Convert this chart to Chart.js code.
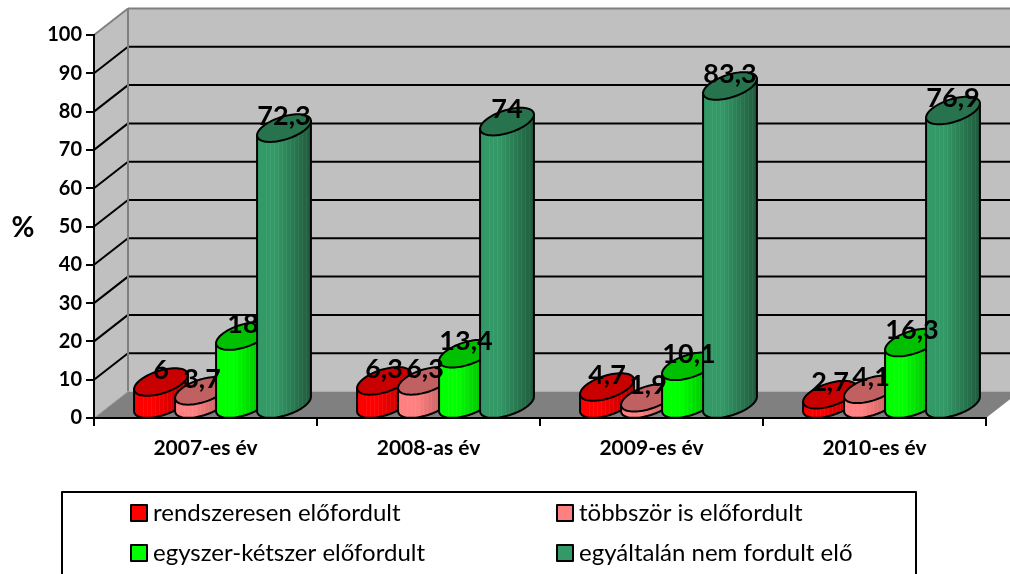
<!DOCTYPE html>
<html><head><meta charset="utf-8">
<script src="https://cdn.jsdelivr.net/npm/chart.js@4"></script>
<style>html,body{margin:0;padding:0;background:#fff;overflow:hidden}canvas{display:block}</style>
</head><body><canvas id="c" width="1010" height="574"></canvas>
<script>
const categories = ['2007-es év','2008-as év','2009-es év','2010-es év'];
const regular = [6, 6.3, 4.7, 2.7];
const several = [3.7, 6.3, 1.9, 4.1];
const onceTwice = [18, 13.4, 10.1, 16.3];
const never = [72.3, 74, 83.3, 76.9];
const seriesNames = ['rendszeresen előfordult','többször is előfordult','egyszer-kétszer előfordult','egyáltalán nem fordult elő'];
const bodyLight = ['#ff0000','#ff8080','#00ff00','#339966'];
const bodyDark = ['#b00000','#b05858','#00a800','#1f5a3d'];
const topColor = ['#c80000','#c06060','#00c000','#27734d'];
const legendColor = ['#ff0000','#ff8080','#00ff00','#339966'];
const yLabel = '%';

const DEPTH_X = 34, DEPTH_Y = 26.5;
const CYL_X = 17, CYL_Y = 13;
const HALF_W = 23, SKEW = 14, HALF_D = 13.8;

function line(ctx, x1, y1, x2, y2, color, w) {
  ctx.strokeStyle = color; ctx.lineWidth = w;
  ctx.beginPath(); ctx.moveTo(x1, y1); ctx.lineTo(x2, y2); ctx.stroke();
}
function ringPoint(cx, cy, t, a) {
  return [cx + a * HALF_W * Math.cos(t) + SKEW * Math.sin(t), cy - HALF_D * Math.sin(t)];
}
function fmt(v) { return String(v).replace('.', ','); }

function drawCylinder(ctx, el, idx) {
  const cx = el.x + CYL_X, topY = el.y - CYL_Y, baseY = el.base - CYL_Y;
  const a = el.width / 41;
  const t0 = Math.atan2(SKEW, a * HALF_W);
  const ext = Math.hypot(SKEW, a * HALF_W);
  const g2 = ctx.createLinearGradient(cx - ext, 0, cx + ext, 0);
  g2.addColorStop(0, bodyLight[idx]);
  g2.addColorStop(0.35, bodyLight[idx]);
  g2.addColorStop(1, bodyDark[idx]);

  const body = new Path2D();
  const n = 40;
  let p = ringPoint(cx, topY, t0 + Math.PI, a);
  body.moveTo(p[0], p[1]);
  for (let i = 0; i <= n; i++) {
    p = ringPoint(cx, baseY, t0 + Math.PI + Math.PI * i / n, a);
    body.lineTo(p[0], p[1]);
  }
  p = ringPoint(cx, topY, t0, a);
  body.lineTo(p[0], p[1]);
  body.closePath();
  ctx.fillStyle = g2; ctx.fill(body);

  ctx.save();
  ctx.clip(body);
  ctx.globalAlpha = 0.06;
  ctx.lineWidth = 1;
  ctx.strokeStyle = '#ffffff';
  for (let sx = Math.round(cx - ext) + 9.5; sx < cx + ext; sx += 4) {
    ctx.beginPath(); ctx.moveTo(sx, topY - 20); ctx.lineTo(sx, baseY + 20); ctx.stroke();
  }
  ctx.restore();

  ctx.strokeStyle = '#000'; ctx.lineWidth = 2; ctx.lineJoin = 'round';
  ctx.stroke(body);

  ctx.beginPath();
  for (let i = 0; i <= 72; i++) {
    p = ringPoint(cx, topY, Math.PI * 2 * i / 72, a);
    if (i) ctx.lineTo(p[0], p[1]); else ctx.moveTo(p[0], p[1]);
  }
  ctx.closePath();
  ctx.fillStyle = topColor[idx]; ctx.fill();
  ctx.stroke();
}

const scene = {
  id: 'scene',
  beforeDraw(chart) {
    const ctx = chart.ctx, ya = chart.scales.y;
    const L = chart.chartArea.left, R = chart.chartArea.right;
    const top = ya.getPixelForValue(100), bot = ya.getPixelForValue(0);
    ctx.save();
    ctx.fillStyle = '#c0c0c0';
    ctx.beginPath();
    ctx.moveTo(L, top); ctx.lineTo(L + DEPTH_X, top - DEPTH_Y);
    ctx.lineTo(R + DEPTH_X, top - DEPTH_Y); ctx.lineTo(R + DEPTH_X, bot - DEPTH_Y);
    ctx.lineTo(L + DEPTH_X, bot - DEPTH_Y); ctx.lineTo(L, bot);
    ctx.closePath(); ctx.fill();
    ctx.fillStyle = '#808080';
    ctx.beginPath();
    ctx.moveTo(L, bot); ctx.lineTo(L + DEPTH_X, bot - DEPTH_Y);
    ctx.lineTo(R + DEPTH_X, bot - DEPTH_Y); ctx.lineTo(R, bot);
    ctx.closePath(); ctx.fill();
    for (let v = 10; v < 100; v += 10) {
      const y = ya.getPixelForValue(v);
      line(ctx, L, y, L + DEPTH_X, y - DEPTH_Y, '#000', 2);
      line(ctx, L + DEPTH_X, y - DEPTH_Y, R + DEPTH_X, y - DEPTH_Y, '#000', 2);
    }
    line(ctx, L, top, L + DEPTH_X, top - DEPTH_Y, '#808080', 2);
    line(ctx, L + DEPTH_X, top - DEPTH_Y, R + DEPTH_X, top - DEPTH_Y, '#808080', 2);
    line(ctx, L + DEPTH_X, top - DEPTH_Y, L + DEPTH_X, bot - DEPTH_Y, '#808080', 2);
    line(ctx, L, bot, L + DEPTH_X, bot - DEPTH_Y, '#a0a0a0', 1);
    ctx.restore();
  },
  beforeDatasetDraw() { return false; },
  afterDatasetsDraw(chart) {
    const ctx = chart.ctx;
    ctx.save();
    chart.data.datasets.forEach((ds, i) => {
      chart.getDatasetMeta(i).data.forEach(el => drawCylinder(ctx, el, i));
    });
    ctx.fillStyle = '#000';
    ctx.font = 'bold 27px Lato';
    ctx.textAlign = 'center'; ctx.textBaseline = 'middle';
    chart.data.datasets.forEach((ds, i) => {
      chart.getDatasetMeta(i).data.forEach((el, j) => {
        ctx.fillText(fmt(ds.data[j]), el.x + CYL_X, el.y - CYL_Y - 12);
      });
    });
    ctx.font = 'bold 28px Lato';
    ctx.fillText(yLabel, 23, 228);

    ctx.strokeStyle = '#000'; ctx.lineWidth = 2;
    ctx.beginPath();
    ctx.moveTo(62, 580); ctx.lineTo(62, 492); ctx.lineTo(916, 492); ctx.lineTo(916, 580);
    ctx.stroke();
    const cols = [131, 557], rows = [513, 553];
    ctx.textAlign = 'left';
    ctx.font = '24px Lato';
    seriesNames.forEach((name, i) => {
      const x = cols[i % 2], y = rows[Math.floor(i / 2)];
      ctx.fillStyle = legendColor[i];
      ctx.fillRect(x, y - 8, 16, 16);
      ctx.strokeRect(x, y - 8, 16, 16);
      ctx.fillStyle = '#000';
      ctx.fillText(name, x + 22, y);
    });
    ctx.restore();
  }
};

const black = '#000';
new Chart(document.getElementById('c'), {
  type: 'bar',
  data: {
    labels: categories,
    datasets: [regular, several, onceTwice, never].map((d, i) => ({
      label: seriesNames[i], data: d, backgroundColor: legendColor[i],
      categoryPercentage: 0.7354, barPercentage: 1
    }))
  },
  options: {
    responsive: false, animation: false,
    layout: { padding: { top: 35, right: 24, left: 0, bottom: 0 } },
    plugins: { legend: { display: false }, tooltip: { enabled: false }, title: { display: false } },
    scales: {
      x: {
        afterFit(s) { s.height = 156; },
        grid: { drawOnChartArea: false, color: black, tickColor: black, tickLength: 8, lineWidth: 2 },
        border: { color: black, width: 2 },
        ticks: { color: black, padding: 10, maxRotation: 0, font: { family: 'Lato', weight: 'bold', size: 21 } }
      },
      y: {
        min: 0, max: 100,
        afterFit(s) { s.width = 94; },
        grid: { drawOnChartArea: false, color: black, tickColor: black, tickLength: 8, lineWidth: 2 },
        border: { color: black, width: 2 },
        ticks: { color: black, stepSize: 10, autoSkip: false, padding: 4, font: { family: 'Lato', weight: 'bold', size: 20 } }
      }
    }
  },
  plugins: [scene]
});
</script></body></html>
